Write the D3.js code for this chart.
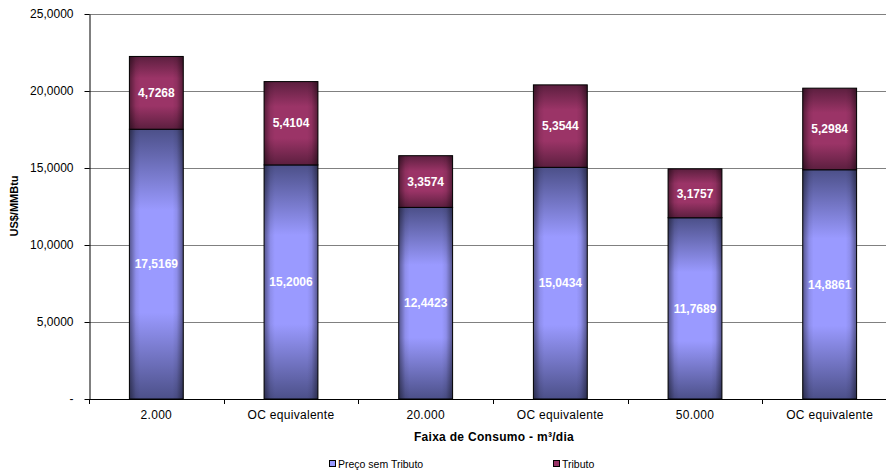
<!DOCTYPE html>
<html><head><meta charset="utf-8">
<script src="https://cdn.jsdelivr.net/npm/d3@7"></script>
<style>body{margin:0;background:#fff;}svg{display:block;font-family:"Liberation Sans",Arial,sans-serif;}</style>
</head><body><svg id="c" width="886" height="473"></svg>
<script>
const categories = ["2.000","OC equivalente","20.000","OC equivalente","50.000","OC equivalente"];
const precoSemTributo = [17.5169,15.2006,12.4423,15.0434,11.7689,14.8861];
const tributo = [4.7268,5.4104,3.3574,5.3544,3.1757,5.2984];
const yTicks = [0,5,10,15,20,25];
const seriesNames = ["Preço sem Tributo","Tributo"];

const svg = d3.select("#c");
const m = {l:89, r:897, t:14, b:399, vis:886};
const x = d3.scaleBand().domain(d3.range(categories.length)).range([m.l, m.r]).paddingInner(0.6).paddingOuter(0.3);
const y = d3.scaleLinear().domain([0,25]).range([m.b, m.t]);
const fmt = v => v === 0 ? "-" : d3.format(",.4f")(v).replace(/,/g,"#").replace(".",",").replace(/#/g,".");
const fmtLbl = v => v.toFixed(4).replace(".",",");

const defs = svg.append("defs");
function vgrad(id, dark, light){
  const g = defs.append("linearGradient").attr("id",id).attr("x1",0).attr("y1",0).attr("x2",0).attr("y2",1);
  [[0,dark],[0.3,light],[0.68,light],[1,dark]].forEach(([o,c])=>g.append("stop").attr("offset",o).attr("stop-color",c));
}
vgrad("gBlue","#4c5089","#9a9aff");
vgrad("gRed","#5c1f3f","#9b3467");
const h = defs.append("linearGradient").attr("id","gEdge").attr("x1",0).attr("y1",0).attr("x2",1).attr("y2",0);
[[0,0.45],[0.12,0.08],[0.2,0],[0.8,0],[0.88,0.08],[1,0.45]].forEach(([o,a])=>h.append("stop").attr("offset",o).attr("stop-color","#000").attr("stop-opacity",a));

// gridlines
svg.append("g").selectAll("line").data(yTicks.filter(d=>d>0)).join("line")
  .attr("x1",m.l).attr("x2",m.vis).attr("y1",d=>y(d)+0.5).attr("y2",d=>y(d)+0.5)
  .attr("stroke","#808080").attr("stroke-width",1);

// y axis
const ya = svg.append("g").attr("transform",`translate(${m.l+0.5},0)`)
  .call(d3.axisLeft(y).tickValues(yTicks).tickFormat(fmt).tickSize(5).tickSizeOuter(0));
ya.select(".domain").attr("stroke","#000");
ya.selectAll("text").attr("font-size",12).attr("fill","#000").attr("x",-16);
ya.selectAll(".tick line").attr("stroke","#000");

// bars
const stacks = categories.map((c,i)=>({i, segs:[{s:0,v:precoSemTributo[i],k:0},{s:precoSemTributo[i],v:tributo[i],k:1}]}));
const bg = svg.append("g");
stacks.forEach(st=>{
  st.segs.forEach(sg=>{
    const x0 = x(st.i), w = x.bandwidth();
    const y1 = y(sg.s+sg.v), y0 = y(sg.s);
    bg.append("rect").attr("x",x0).attr("y",y1).attr("width",w).attr("height",y0-y1)
      .attr("fill", sg.k===0 ? "url(#gBlue)" : "url(#gRed)");
    bg.append("rect").attr("x",x0).attr("y",y1).attr("width",w).attr("height",y0-y1)
      .attr("fill","url(#gEdge)").attr("stroke","#000").attr("stroke-width",1);
    bg.append("text").attr("x",x0+w/2).attr("y",(y0+y1)/2).attr("dy","0.35em")
      .attr("text-anchor","middle").attr("fill","#fff").attr("font-weight","bold").attr("font-size",12)
      .text(fmtLbl(sg.v));
  });
});

// x axis
const step = x.step();
const bounds = d3.range(categories.length).map(i=>m.l + i*(m.r-m.l)/categories.length);
svg.append("line").attr("x1",m.l).attr("x2",m.vis).attr("y1",m.b+0.5).attr("y2",m.b+0.5).attr("stroke","#000");
svg.append("g").selectAll("line").data(bounds).join("line")
  .attr("x1",d=>Math.round(d)+0.5).attr("x2",d=>Math.round(d)+0.5).attr("y1",m.b).attr("y2",m.b+5).attr("stroke","#000");
svg.append("g").selectAll("text").data(categories).join("text")
  .attr("x",(d,i)=>x(i)+x.bandwidth()/2).attr("y",419).attr("text-anchor","middle")
  .attr("font-size",12).attr("letter-spacing",0.3).attr("fill","#000").text(d=>d);

// axis titles
svg.append("text").attr("x",494).attr("y",441).attr("text-anchor","middle").attr("font-weight","bold").attr("font-size",12).attr("letter-spacing",0.3).text("Faixa de Consumo - m³/dia");
svg.append("text").attr("transform","translate(18,206) rotate(-90)").attr("text-anchor","middle").attr("font-weight","bold").attr("font-size",11).text("US$/MMBtu");

// legend
const leg = [{n:seriesNames[0],c:"#9999ff",x:329},{n:seriesNames[1],c:"#993366",x:553}];
leg.forEach(l=>{
  svg.append("rect").attr("x",l.x+0.5).attr("y",460.5).attr("width",6).attr("height",6).attr("fill",l.c).attr("stroke","#000");
  svg.append("text").attr("x",l.x+9).attr("y",467.5).attr("font-size",10.5).text(l.n);
});
</script></body></html>
